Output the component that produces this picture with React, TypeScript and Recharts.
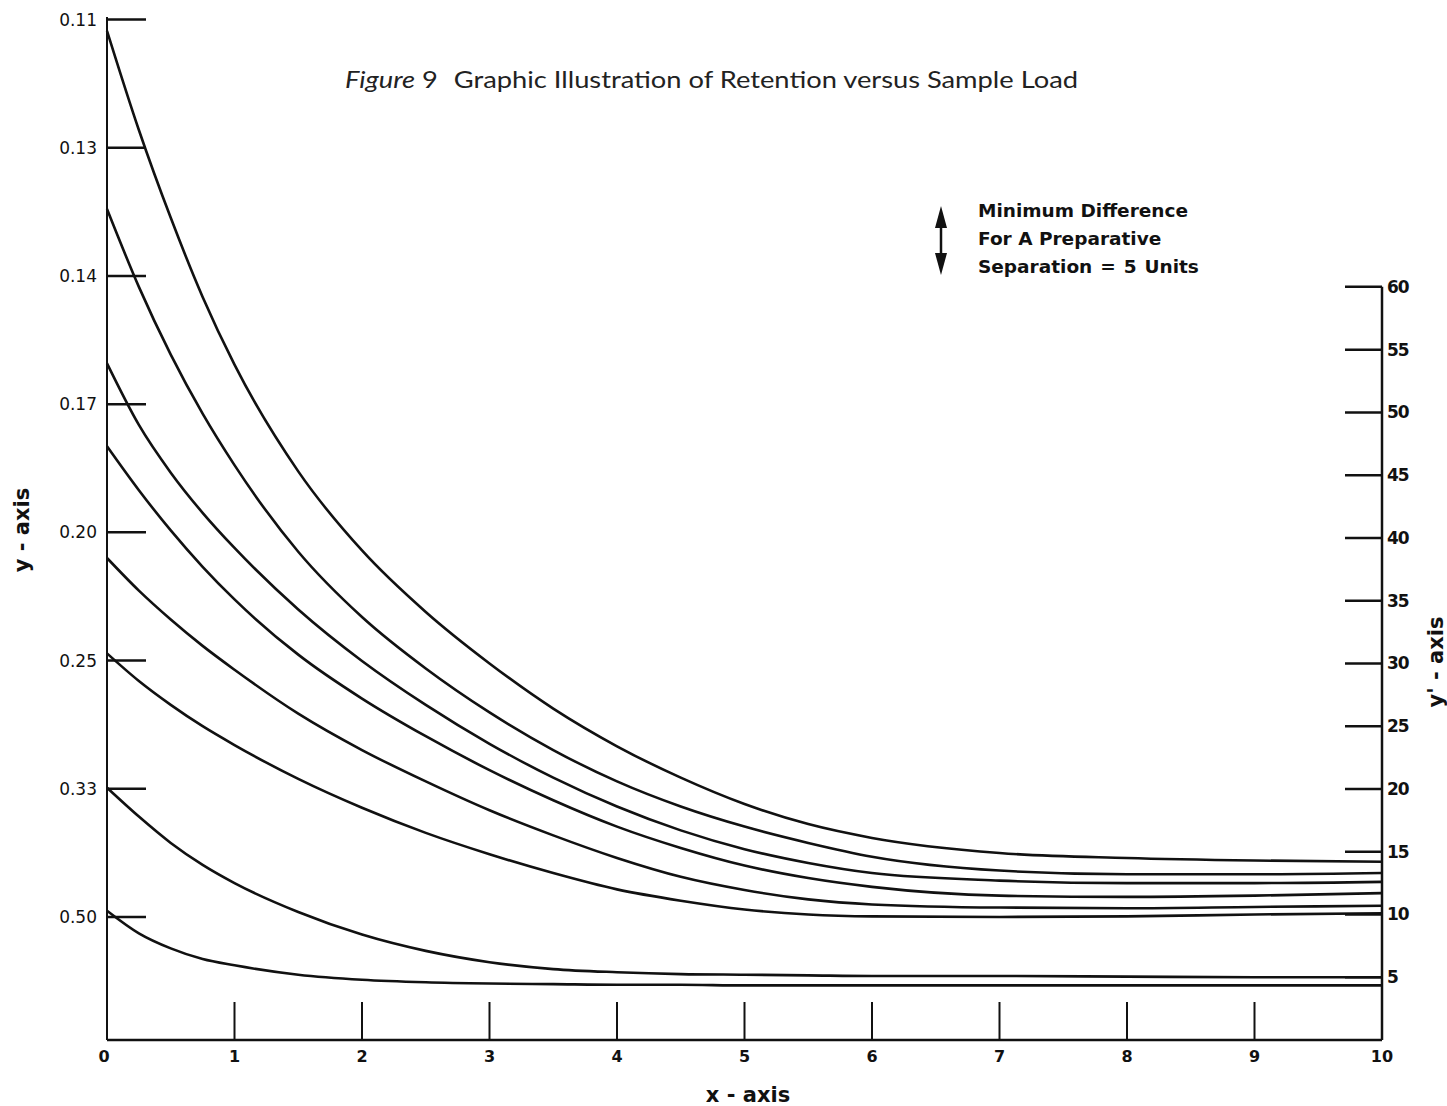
import { LineChart, Line, XAxis, YAxis, ReferenceLine } from "recharts";

const xValues = [0, 0.25, 0.5, 0.75, 1, 1.5, 2, 2.5, 3, 3.5, 4, 4.5, 5, 5.5, 6, 7, 8, 9, 10];

// y' values (right axis units), top curve first
const curveA = [80.4, 72.5, 65.5, 59.2, 53.8, 45.3, 39.0, 34.1, 30.0, 26.4, 23.4, 20.9, 18.8, 17.2, 16.1, 14.9, 14.5, 14.3, 14.2];
const curveB = [66.2, 60.0, 54.6, 49.9, 45.8, 38.9, 33.7, 29.6, 26.1, 23.1, 20.6, 18.6, 17.0, 15.7, 14.6, 13.5, 13.2, 13.2, 13.3];
const curveC = [53.9, 49.0, 45.2, 42.0, 39.2, 34.3, 30.2, 26.7, 23.6, 20.9, 18.6, 16.7, 15.2, 14.1, 13.3, 12.7, 12.5, 12.5, 12.6];
const curveD = [47.3, 43.8, 40.6, 37.7, 35.1, 30.7, 27.2, 24.2, 21.5, 19.1, 17.0, 15.3, 13.9, 12.9, 12.2, 11.5, 11.4, 11.5, 11.7];
const curveE = [38.4, 35.8, 33.5, 31.4, 29.5, 26.0, 23.1, 20.6, 18.3, 16.3, 14.5, 13.0, 11.95, 11.2, 10.8, 10.55, 10.5, 10.6, 10.7];
const curveF = [30.8, 28.6, 26.7, 25.0, 23.5, 20.8, 18.5, 16.5, 14.8, 13.3, 12.0, 11.1, 10.4, 10.0, 9.85, 9.8, 9.85, 10.0, 10.1];
const curveG = [20.1, 17.8, 15.7, 13.95, 12.5, 10.2, 8.4, 7.1, 6.2, 5.65, 5.4, 5.25, 5.2, 5.15, 5.1, 5.1, 5.05, 5.0, 5.0];
const curveH = [10.3, 8.5, 7.3, 6.45, 5.95, 5.2, 4.8, 4.6, 4.5, 4.45, 4.4, 4.4, 4.35, 4.35, 4.35, 4.35, 4.35, 4.35, 4.35];

const xTicks = [0, 1, 2, 3, 4, 5, 6, 7, 8, 9, 10];
// left axis is evenly spaced in 1/y
const leftTicks = [2, 3, 4, 5, 6, 7, 8, 9];
const leftTickLabels = ["0.50", "0.33", "0.25", "0.20", "0.17", "0.14", "0.13", "0.11"];
const rightTicks = [5, 10, 15, 20, 25, 30, 35, 40, 45, 50, 55, 60];
const legendLines = ["Minimum Difference", "For A Preparative", "Separation = 5 Units"];

const series = [
  { key: "a", values: curveA },
  { key: "b", values: curveB },
  { key: "c", values: curveC },
  { key: "d", values: curveD },
  { key: "e", values: curveE },
  { key: "f", values: curveF },
  { key: "g", values: curveG },
  { key: "h", values: curveH },
];

const rows = xValues.map((x, i) => {
  const row: Record<string, number> = { x };
  series.forEach((s) => {
    row[s.key] = s.values[i];
  });
  return row;
});

const INK = "#111";
const AXIS_FONT = "DejaVu Sans, Liberation Sans, sans-serif";

function BottomTick(props: any) {
  const { x, y, payload } = props;
  const v = payload.value;
  return (
    <g>
      {v > 0 && v < 10 && (
        <line x1={x} y1={y} x2={x} y2={y - 38} stroke={INK} strokeWidth={2} />
      )}
      <text x={v === 0 ? x - 3 : x} y={y + 22} textAnchor="middle" fontFamily={AXIS_FONT} fontSize={16} fontWeight="bold" fill={INK}>
        {v}
      </text>
    </g>
  );
}

function LeftTick(props: any) {
  const { x, y, payload } = props;
  const idx = leftTicks.indexOf(payload.value);
  return (
    <g>
      <line x1={x} y1={y} x2={x + 39} y2={y} stroke={INK} strokeWidth={2.5} />
      <text x={x - 10} y={y + 6} textAnchor="end" fontFamily={AXIS_FONT} fontSize={17} fill={INK}>
        {leftTickLabels[idx]}
      </text>
    </g>
  );
}

function RightTick(props: any) {
  const { x, y, payload } = props;
  return (
    <g>
      <line x1={x - 37} y1={y} x2={x} y2={y} stroke={INK} strokeWidth={2.5} />
      <text x={x + 5} y={y + 6} textAnchor="start" fontFamily={AXIS_FONT} fontSize={17} fontWeight="bold" fill={INK} letterSpacing={-1}>
        {payload.value}
      </text>
    </g>
  );
}

export default function App() {
  return (
    <div style={{ position: "absolute", left: 0, top: 0, width: 1447, height: 1106, background: "#fff" }}>
      <LineChart width={1447} height={1106} data={rows} margin={{ top: 17, right: 0, bottom: 0, left: 0 }}>
        <XAxis
          dataKey="x"
          type="number"
          domain={[0, 10]}
          ticks={xTicks}
          interval={0}
          height={66}
          axisLine={{ stroke: INK, strokeWidth: 2.5 }}
          tickLine={false}
          tickSize={0}
          tickMargin={0}
          tick={BottomTick}
        />
        <YAxis
          yAxisId="left"
          orientation="left"
          type="number"
          domain={[1.04, 9.02]}
          allowDataOverflow
          ticks={leftTicks}
          interval={0}
          width={107}
          axisLine={{ stroke: INK, strokeWidth: 2 }}
          tickLine={false}
          tickSize={0}
          tickMargin={0}
          tick={LeftTick}
        />
        <YAxis
          yAxisId="right"
          orientation="right"
          type="number"
          domain={[0, 81.5]}
          allowDataOverflow
          ticks={rightTicks}
          interval={0}
          width={65}
          axisLine={false}
          tickLine={false}
          tickSize={0}
          tickMargin={0}
          tick={RightTick}
        />
        <ReferenceLine
          yAxisId="right"
          segment={[{ x: 10, y: 0 }, { x: 10, y: 60 }]}
          stroke={INK}
          strokeWidth={2.5}
          ifOverflow="visible"
        />
        {series.map((s) => (
          <Line
            key={s.key}
            yAxisId="right"
            dataKey={s.key}
            type="monotone"
            stroke={INK}
            strokeWidth={2.6}
            dot={false}
            activeDot={false}
            isAnimationActive={false}
          />
        ))}
      </LineChart>
      <svg width={1447} height={1106} style={{ position: "absolute", left: 0, top: 0, pointerEvents: "none" }}>
        <text x={345} y={88} fontFamily="Lato, Open Sans, sans-serif" fontSize={24} fill="#222" textLength={733} lengthAdjust="spacingAndGlyphs">
          <tspan fontStyle="italic">Figure</tspan>
          <tspan> 9</tspan>
          <tspan dx={14}>Graphic Illustration of Retention versus Sample Load</tspan>
        </text>
        <line x1={941} y1={222} x2={941} y2={258} stroke={INK} strokeWidth={2.5} />
        <polygon points="941,206 935,228 947,228" fill={INK} />
        <polygon points="941,275 935,253 947,253" fill={INK} />
        {legendLines.map((t, i) => (
          <text key={t} x={978} y={217 + i * 28} fontFamily={AXIS_FONT} fontSize={18.5} fontWeight="bold" fill={INK} wordSpacing={i === 2 ? 1.5 : 0}>
            {t}
          </text>
        ))}
        <text x={748} y={1102} textAnchor="middle" fontFamily={AXIS_FONT} fontSize={21} fontWeight="bold" fill={INK}>
          x - axis
        </text>
        <text x={22} y={530} textAnchor="middle" dominantBaseline="central" transform="rotate(-90 22 530)" fontFamily={AXIS_FONT} fontSize={21} fontWeight="bold" fill={INK}>
          y - axis
        </text>
        <text x={1436} y={662} textAnchor="middle" dominantBaseline="central" transform="rotate(-90 1436 662)" fontFamily={AXIS_FONT} fontSize={21} fontWeight="bold" fill={INK}>
          y' - axis
        </text>
      </svg>
    </div>
  );
}
